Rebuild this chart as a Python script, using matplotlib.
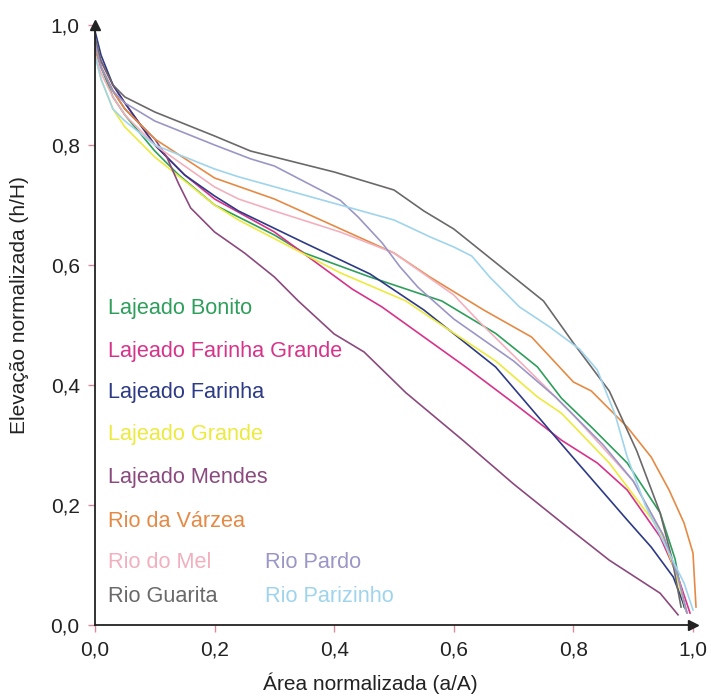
import matplotlib
matplotlib.use("Agg")
import matplotlib.pyplot as plt

# curvas hipsometricas (a/A, h/H)
bonito_x = [0.0, 0.01, 0.03, 0.05, 0.1, 0.14, 0.2, 0.24, 0.3, 0.35, 0.46, 0.58, 0.67, 0.74, 0.78, 0.83, 0.89, 0.945, 0.97, 0.985]
bonito_y = [0.96, 0.93, 0.88, 0.85, 0.79, 0.75, 0.70, 0.68, 0.65, 0.62, 0.58, 0.54, 0.486, 0.43, 0.378, 0.33, 0.27, 0.187, 0.11, 0.03]

farinha_gr_x = [0.0, 0.01, 0.03, 0.05, 0.1, 0.15, 0.2, 0.3, 0.43, 0.48, 0.55, 0.62, 0.7, 0.78, 0.84, 0.89, 0.945, 0.975, 0.995]
farinha_gr_y = [0.97, 0.94, 0.90, 0.87, 0.80, 0.75, 0.71, 0.655, 0.56, 0.53, 0.48, 0.43, 0.37, 0.308, 0.27, 0.225, 0.147, 0.08, 0.02]

farinha_x = [0.0, 0.01, 0.03, 0.05, 0.1, 0.15, 0.2, 0.24, 0.35, 0.46, 0.55, 0.67, 0.79, 0.89, 0.93, 0.967, 0.99]
farinha_y = [0.99, 0.95, 0.90, 0.87, 0.80, 0.75, 0.715, 0.69, 0.637, 0.585, 0.525, 0.43, 0.29, 0.175, 0.13, 0.08, 0.02]

grande_x = [0.0, 0.01, 0.03, 0.05, 0.1, 0.2, 0.24, 0.41, 0.52, 0.56, 0.67, 0.74, 0.78, 0.86, 0.945, 0.97, 0.99]
grande_y = [0.95, 0.91, 0.86, 0.83, 0.78, 0.70, 0.675, 0.587, 0.54, 0.513, 0.44, 0.38, 0.353, 0.27, 0.158, 0.09, 0.02]

mendes_x = [0.0, 0.01, 0.03, 0.05, 0.1, 0.12, 0.14, 0.16, 0.2, 0.25, 0.3, 0.34, 0.4, 0.45, 0.52, 0.615, 0.7, 0.79, 0.86, 0.945, 0.975]
mendes_y = [0.97, 0.93, 0.89, 0.86, 0.81, 0.78, 0.735, 0.695, 0.655, 0.62, 0.58, 0.54, 0.485, 0.455, 0.387, 0.308, 0.235, 0.163, 0.108, 0.053, 0.017]

varzea_x = [0.0, 0.01, 0.03, 0.05, 0.1, 0.2, 0.3, 0.4, 0.5, 0.56, 0.65, 0.73, 0.8, 0.83, 0.89, 0.93, 0.96, 0.985, 1.0, 1.005]
varzea_y = [0.96, 0.93, 0.89, 0.86, 0.81, 0.745, 0.71, 0.665, 0.62, 0.58, 0.525, 0.48, 0.405, 0.39, 0.33, 0.28, 0.225, 0.17, 0.12, 0.03]

mel_x = [0.0, 0.01, 0.03, 0.05, 0.1, 0.2, 0.24, 0.3, 0.41, 0.5, 0.6, 0.64, 0.75, 0.8, 0.9, 0.95, 0.975, 0.99]
mel_y = [0.95, 0.92, 0.88, 0.85, 0.80, 0.73, 0.71, 0.69, 0.655, 0.62, 0.55, 0.508, 0.40, 0.35, 0.24, 0.15, 0.08, 0.02]

guarita_x = [0.0, 0.01, 0.03, 0.05, 0.1, 0.2, 0.26, 0.3, 0.4, 0.5, 0.55, 0.6, 0.65, 0.7, 0.75, 0.8, 0.86, 0.906, 0.945, 0.965, 0.98]
guarita_y = [0.98, 0.94, 0.90, 0.88, 0.855, 0.815, 0.79, 0.78, 0.755, 0.725, 0.69, 0.66, 0.62, 0.58, 0.54, 0.47, 0.39, 0.29, 0.187, 0.11, 0.03]

pardo_x = [0.0, 0.01, 0.03, 0.05, 0.1, 0.2, 0.26, 0.3, 0.41, 0.44, 0.48, 0.51, 0.54, 0.6, 0.7, 0.77, 0.85, 0.9, 0.95, 0.975, 0.99]
pardo_y = [0.97, 0.93, 0.89, 0.87, 0.84, 0.80, 0.777, 0.765, 0.708, 0.68, 0.637, 0.597, 0.563, 0.51, 0.44, 0.38, 0.30, 0.24, 0.15, 0.08, 0.02]

parizinho_x = [0.0, 0.01, 0.03, 0.05, 0.1, 0.2, 0.24, 0.41, 0.5, 0.56, 0.6, 0.63, 0.66, 0.71, 0.76, 0.81, 0.84, 0.87, 0.89, 0.92, 0.96, 0.985, 1.0]
parizinho_y = [0.95, 0.91, 0.86, 0.84, 0.80, 0.76, 0.747, 0.70, 0.675, 0.647, 0.63, 0.615, 0.58, 0.53, 0.497, 0.46, 0.425, 0.35, 0.28, 0.20, 0.12, 0.07, 0.025]

nomes = ["Lajeado Bonito", "Lajeado Farinha Grande", "Lajeado Farinha", "Lajeado Grande",
         "Lajeado Mendes", "Rio da Várzea", "Rio do Mel", "Rio Guarita", "Rio Pardo", "Rio Parizinho"]
cores = ["#2e9e5b", "#d6338a", "#2d3a85", "#ecea3e", "#8b4a7e",
         "#e58a45", "#f2b0be", "#6b6868", "#9a96c6", "#9fd4ec"]
series = [(bonito_x, bonito_y), (farinha_gr_x, farinha_gr_y), (farinha_x, farinha_y),
          (grande_x, grande_y), (mendes_x, mendes_y), (varzea_x, varzea_y), (mel_x, mel_y),
          (guarita_x, guarita_y), (pardo_x, pardo_y), (parizinho_x, parizinho_y)]

# posicao dos nomes (em coordenadas de dados)
label_x = [0.022, 0.022, 0.022, 0.022, 0.022, 0.022, 0.022, 0.022, 0.284, 0.284]
label_y = [0.527, 0.455, 0.388, 0.318, 0.245, 0.173, 0.105, 0.048, 0.105, 0.048]

fonte = ["Liberation Sans", "DejaVu Sans"]
fonte_narrow = ["Liberation Sans Narrow", "Liberation Sans", "DejaVu Sans"]

fig = plt.figure(figsize=(7.11, 6.96), dpi=100)
ax = fig.add_axes([95 / 711, 71 / 696, 598 / 711, 600 / 696])

for (xs, ys), c in zip(series, cores):
    ax.plot(xs, ys, color=c, lw=1.2, clip_on=False)

for nome, c, lx, ly in zip(nomes, cores, label_x, label_y):
    ax.text(lx, ly, nome, color=c, fontsize=15.6, family=fonte, va="center", ha="left")

ax.set_xlim(0, 1.0)
ax.set_ylim(0, 1.0)
for s in ["top", "right"]:
    ax.spines[s].set_visible(False)
for s in ["left", "bottom"]:
    ax.spines[s].set_color("#222222")
    ax.spines[s].set_linewidth(1.3)

ticks = [0.0, 0.2, 0.4, 0.6, 0.8, 1.0]
tick_labels = ["0,0", "0,2", "0,4", "0,6", "0,8", "1,0"]
ax.set_xticks(ticks)
ax.set_xticklabels(tick_labels)
ax.set_yticks(ticks)
ax.set_yticklabels(tick_labels)
ax.tick_params(length=5, width=1, color="#d98a9a", labelsize=15, pad=6)
for lab in ax.get_xticklabels() + ax.get_yticklabels():
    lab.set_family(fonte_narrow)
    lab.set_color("#222222")

# setas dos eixos
ax.plot([1.0], [0], marker=">", color="#222222", markersize=7, clip_on=False, transform=ax.get_yaxis_transform())
ax.plot([0], [1.0], marker="^", color="#222222", markersize=7, clip_on=False, transform=ax.get_xaxis_transform())

fig.text(370 / 711, 1 - 683 / 696, "Área normalizada (a/A)", ha="center", va="center",
         fontsize=15, family=fonte_narrow, color="#222222")
fig.text(20 / 711, 1 - 305 / 696, "Elevação normalizada (h/H)", ha="center", va="center",
         rotation=90, fontsize=15, family=fonte, color="#222222")

fig.savefig("out.png", dpi=100)
plt.close(fig)
